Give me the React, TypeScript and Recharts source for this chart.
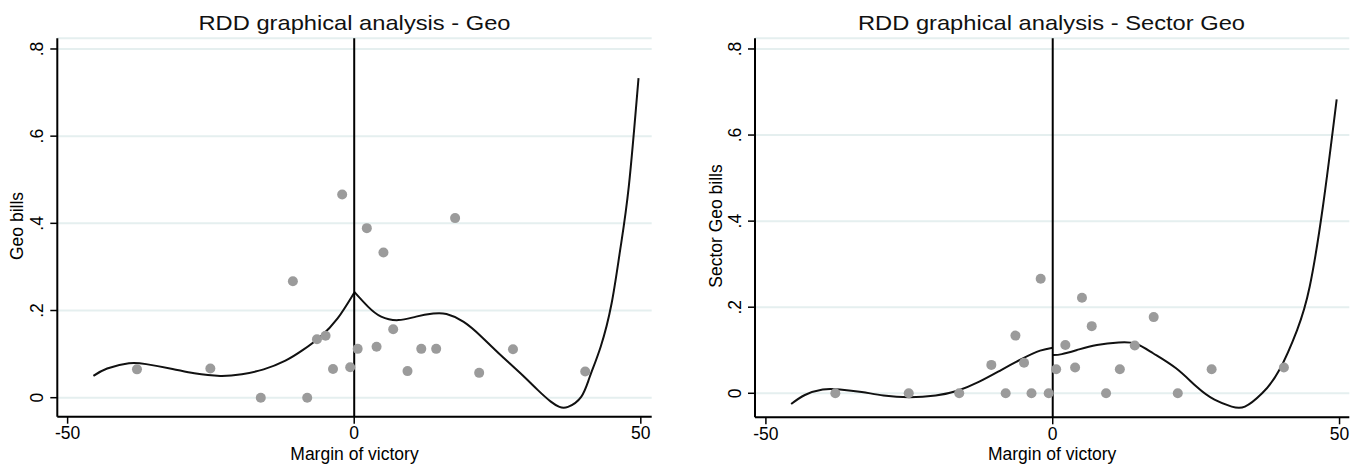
import React from 'react';
import {
  ComposedChart,
  XAxis,
  YAxis,
  CartesianGrid,
  Scatter,
  Line,
  ReferenceLine,
} from 'recharts';

const FONT = '"Liberation Sans", Arial, sans-serif';

// bin midpoints of the running variable (margin of victory)
const MARGIN_BINS = [
  -37.9, -25.1, -16.3, -10.7, -8.2, -6.5, -5.0, -3.7, -2.1, -0.7, 0.6,
  2.2, 3.9, 5.1, 6.8, 9.3, 11.7, 14.3, 17.6, 21.8, 27.7, 40.3,
];

// bin means
const GEO_MEANS = [
  0.065, 0.067, 0, 0.267, 0, 0.134, 0.142, 0.066, 0.466, 0.07, 0.112,
  0.389, 0.117, 0.333, 0.157, 0.061, 0.112, 0.112, 0.412, 0.057, 0.111, 0.06,
];
const SECTOR_GEO_MEANS = [
  0, 0, 0, 0.066, 0, 0.134, 0.071, 0, 0.266, 0, 0.056,
  0.112, 0.06, 0.222, 0.156, 0, 0.056, 0.111, 0.177, 0, 0.056, 0.06,
];

// fitted polynomials, left and right of the cutoff
const GEO_FIT_LEFT_X = [-45.5, -43.1, -39.3, -36.3, -31.7, -27.9, -23.4, -19.6, -15.8, -12.0, -9.0, -5.9, -2.9, 0];
const GEO_FIT_LEFT_Y = [0.05, 0.067, 0.079, 0.077, 0.066, 0.056, 0.05, 0.054, 0.065, 0.085, 0.109, 0.14, 0.182, 0.241];
const GEO_FIT_RIGHT_X = [0, 2.4, 4.7, 7.7, 10.8, 13.8, 16.1, 19.1, 22.2, 25.2, 29.0, 32.0, 34.3, 35.8, 37.3, 39.6, 41.1, 43.0, 44.9, 46.4, 47.9, 49.6];
const GEO_FIT_RIGHT_Y = [0.243, 0.209, 0.186, 0.178, 0.186, 0.193, 0.192, 0.174, 0.14, 0.102, 0.056, 0.018, -0.009, -0.021, -0.021, 0.002, 0.048, 0.117, 0.216, 0.339, 0.484, 0.733];

const SECTOR_FIT_LEFT_X = [-45.6, -43.2, -40.1, -37.1, -33.3, -29.5, -25.0, -20.4, -16.6, -12.8, -9.0, -5.2, -2.2, 0];
const SECTOR_FIT_LEFT_Y = [-0.025, -0.004, 0.009, 0.009, 0.003, -0.005, -0.009, -0.005, 0.006, 0.027, 0.054, 0.081, 0.099, 0.106];
const SECTOR_FIT_RIGHT_X = [0, 1.6, 4.6, 7.7, 11.5, 14.5, 17.5, 21.5, 25.1, 28.2, 31.2, 33.5, 36.5, 39.5, 42.6, 44.8, 47.1, 49.5];
const SECTOR_FIT_RIGHT_Y = [0.089, 0.091, 0.102, 0.112, 0.118, 0.115, 0.093, 0.058, 0.015, -0.015, -0.031, -0.031, 0, 0.054, 0.147, 0.248, 0.434, 0.683];

const X_TICKS = [-50, 0, 50];
const Y_TICKS = [0, 0.2, 0.4, 0.6, 0.8];
const Y_TICK_LABELS = ['0', '.2', '.4', '.6', '.8'];

const pairs = (xs: number[], ys: number[]) => xs.map((x, i) => ({ x, y: ys[i] }));

function YTick({ x, y, payload }: any) {
  const i = Y_TICKS.indexOf(payload.value);
  return (
    <text
      transform={`translate(${x - 5.5},${y}) rotate(-90)`}
      textAnchor="middle"
      fontSize={17.5}
      fontFamily={FONT}
      fill="#000"
    >
      {Y_TICK_LABELS[i] ?? payload.value}
    </text>
  );
}

function Dot(props: any) {
  return <circle cx={props.cx} cy={props.cy} r={5} fill="#9b9b9b" />;
}

interface PanelProps {
  left: number;
  title: string;
  titleX: number;
  titleWidth: number;
  yLabel: string;
  yLabelX: number;
  yAxisWidth: number;
  marginRight: number;
  xAxisHeight: number;
  xDomain: [number, number];
  yDomain: [number, number];
  means: number[];
  fitLeft: { x: number; y: number }[];
  fitRight: { x: number; y: number }[];
}

function Panel(p: PanelProps) {
  const points = pairs(MARGIN_BINS, p.means);
  return (
    <div style={{ position: 'absolute', left: p.left, top: 0, width: 680, height: 464 }}>
      <ComposedChart
        width={680}
        height={464}
        margin={{ top: 38.3, right: p.marginRight, left: 0, bottom: 0 }}
      >
        <CartesianGrid vertical={false} stroke="#e5efef" strokeWidth={2} />
        <XAxis
          type="number"
          dataKey="x"
          domain={p.xDomain}
          ticks={X_TICKS}
          allowDataOverflow
          height={p.xAxisHeight}
          axisLine={{ stroke: '#000', strokeWidth: 2 }}
          tickLine={{ stroke: '#000', strokeWidth: 1.5 }}
          tickSize={7}
          tickMargin={3}
          tick={{ fill: '#000', fontSize: 17.5, fontFamily: FONT }}
          label={{
            value: 'Margin of victory',
            position: 'insideBottom',
            offset: 4.5,
            fill: '#000',
            fontSize: 17.5,
            fontFamily: FONT,
          }}
        />
        <YAxis
          type="number"
          dataKey="y"
          domain={p.yDomain}
          ticks={Y_TICKS}
          allowDataOverflow
          width={p.yAxisWidth}
          axisLine={{ stroke: '#000', strokeWidth: 2 }}
          tickLine={{ stroke: '#000', strokeWidth: 1.5 }}
          tickSize={7}
          tickMargin={2}
          tick={<YTick />}
        />
        <Scatter data={points} dataKey="y" shape={<Dot />} isAnimationActive={false} />
        <Line
          data={p.fitLeft}
          dataKey="y"
          type="natural"
          stroke="#111"
          strokeWidth={2}
          dot={false}
          isAnimationActive={false}
        />
        <Line
          data={p.fitRight}
          dataKey="y"
          type="natural"
          stroke="#111"
          strokeWidth={2}
          dot={false}
          isAnimationActive={false}
        />
        <ReferenceLine x={0} stroke="#000" strokeWidth={2} />
      </ComposedChart>
      <svg
        width={680}
        height={464}
        style={{ position: 'absolute', left: 0, top: 0, pointerEvents: 'none' }}
      >
        <text
          x={p.titleX}
          y={29.5}
          textAnchor="middle"
          fontSize={21}
          fontFamily={FONT}
          fill="#111"
          textLength={p.titleWidth}
          lengthAdjust="spacingAndGlyphs"
        >
          {p.title}
        </text>
        <text
          transform={`translate(${p.yLabelX},226) rotate(-90)`}
          textAnchor="middle"
          fontSize={17.5}
          fontFamily={FONT}
          fill="#000"
        >
          {p.yLabel}
        </text>
      </svg>
    </div>
  );
}

export default function App() {
  return (
    <div
      style={{
        position: 'absolute',
        left: 0,
        top: 0,
        width: 1360,
        height: 464,
        background: '#fff',
        overflow: 'hidden',
      }}
    >
      <Panel
        left={0}
        title="RDD graphical analysis - Geo"
        titleX={354.5}
        titleWidth={312}
        yLabel="Geo bills"
        yLabelX={23}
        yAxisWidth={57.3}
        marginRight={28.3}
        xAxisHeight={47.3}
        xDomain={[-51.8, 51.9]}
        yDomain={[-0.0436, 0.8245]}
        means={GEO_MEANS}
        fitLeft={pairs(GEO_FIT_LEFT_X, GEO_FIT_LEFT_Y)}
        fitRight={pairs(GEO_FIT_RIGHT_X, GEO_FIT_RIGHT_Y)}
      />
      <Panel
        left={680}
        title="RDD graphical analysis - Sector Geo"
        titleX={371.5}
        titleWidth={387}
        yLabel="Sector Geo bills"
        yLabelX={42}
        yAxisWidth={75}
        marginRight={10.7}
        xAxisHeight={46.7}
        xDomain={[-51.9, 51.7]}
        yDomain={[-0.0558, 0.8248]}
        means={SECTOR_GEO_MEANS}
        fitLeft={pairs(SECTOR_FIT_LEFT_X, SECTOR_FIT_LEFT_Y)}
        fitRight={pairs(SECTOR_FIT_RIGHT_X, SECTOR_FIT_RIGHT_Y)}
      />
    </div>
  );
}
